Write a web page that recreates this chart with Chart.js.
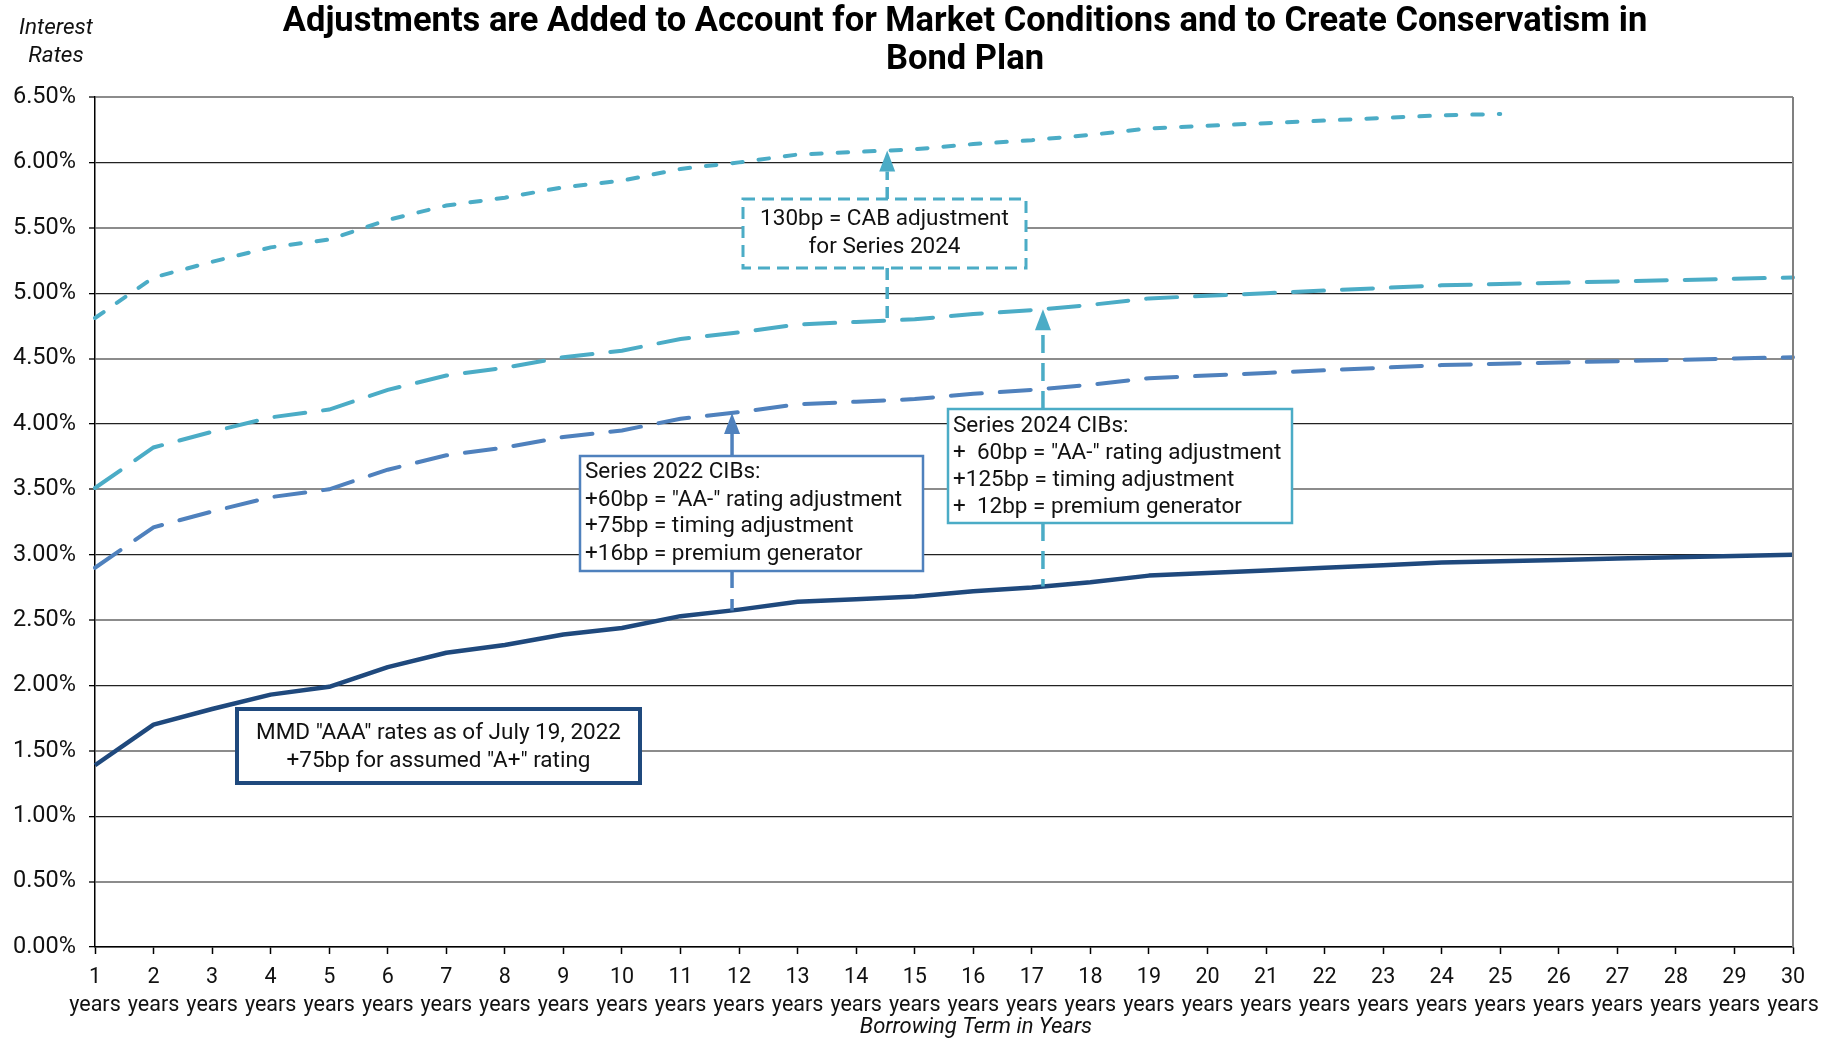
<!DOCTYPE html>
<html>
<head>
<meta charset="utf-8">
<script src="https://cdn.jsdelivr.net/npm/chart.js@4.4.1/dist/chart.umd.min.js"></script>
<style>
  html, body { margin: 0; padding: 0; background: #ffffff; }
  #wrap { width: 1837px; height: 1039px; }
</style>
</head>
<body>
<div id="wrap"><canvas id="c" width="1837" height="1039"></canvas></div>
<script>
// Borrowing terms (years) on the x axis
const terms = [1, 2, 3, 4, 5, 6, 7, 8, 9, 10, 11, 12, 13, 14, 15,
               16, 17, 18, 19, 20, 21, 22, 23, 24, 25, 26, 27, 28, 29, 30];
const termUnit = 'years';

// MMD "AAA" + 75bp ("A+") curve, in percent
const mmdRates = [1.39, 1.70, 1.82, 1.93, 1.99, 2.14, 2.25, 2.31, 2.39, 2.44,
                  2.53, 2.58, 2.64, 2.66, 2.68, 2.72, 2.75, 2.79, 2.84, 2.86,
                  2.88, 2.90, 2.92, 2.94, 2.95, 2.96, 2.97, 2.98, 2.99, 3.00];

// Series 2022 CIBs
const series2022Rates = [2.90, 3.21, 3.33, 3.44, 3.50, 3.65, 3.76, 3.82, 3.90, 3.95,
                         4.04, 4.09, 4.15, 4.17, 4.19, 4.23, 4.26, 4.30, 4.35, 4.37,
                         4.39, 4.41, 4.43, 4.45, 4.46, 4.47, 4.48, 4.49, 4.50, 4.51];

// Series 2024 CIBs
const series2024Rates = [3.51, 3.82, 3.94, 4.05, 4.11, 4.26, 4.37, 4.43, 4.51, 4.56,
                         4.65, 4.70, 4.76, 4.78, 4.80, 4.84, 4.87, 4.91, 4.96, 4.98,
                         5.00, 5.02, 5.04, 5.06, 5.07, 5.08, 5.09, 5.10, 5.11, 5.12];

// Series 2024 with CAB adjustment (runs to 25 years)
const cabRates = [4.81, 5.12, 5.24, 5.35, 5.41, 5.56, 5.67, 5.73, 5.81, 5.86,
                  5.95, 6.00, 6.06, 6.08, 6.10, 6.14, 6.17, 6.21, 6.26, 6.28,
                  6.30, 6.32, 6.34, 6.36, 6.37, null, null, null, null, null];

// Y axis range / tick step (percent)
const yTicks = { min: 0, max: 6.5, step: 0.5 };

const NAVY = '#1F497D';
const BLUE = '#4F81BD';
const TEAL = '#4BACC6';
const FONT = 'Roboto, "DejaVu Sans", sans-serif';

const tickLabels = terms.map(t => [String(t), termUnit]);

// Callout boxes and arrows drawn over the plot
const callouts = [
  { rect: [237, 709, 403, 74], stroke: NAVY, width: 4, dash: [], align: 'center',
    lines: ['MMD "AAA" rates as of July 19, 2022', '+75bp for assumed "A+" rating'],
    lineY: [733, 761] },
  { rect: [580, 456, 343, 115], stroke: BLUE, width: 2.5, dash: [], align: 'left',
    lines: ['Series 2022 CIBs:', '+60bp = "AA-" rating adjustment', '+75bp = timing adjustment', '+16bp = premium generator'],
    lineY: [472, 500, 526, 554] },
  { rect: [948, 409, 344, 114], stroke: TEAL, width: 2.5, dash: [], align: 'left',
    lines: ['Series 2024 CIBs:', '+  60bp = "AA-" rating adjustment', '+125bp = timing adjustment', '+  12bp = premium generator'],
    lineY: [426, 453, 480, 507] },
  { rect: [743, 199, 283, 69], stroke: TEAL, width: 3, dash: [12, 7], align: 'center',
    lines: ['130bp = CAB adjustment', 'for Series 2024'],
    lineY: [219, 247] }
];

// Arrows: position along the x axis (category index), from the base curve up to the target curve
const arrows = [
  { at: 10.88, from: 0, to: 1, box: 1, color: BLUE, upperDash: [], lowerDash: [17, 11] },
  { at: 16.19, from: 0, to: 2, box: 2, color: TEAL, upperDash: [18, 10], lowerDash: [18, 10] },
  { at: 13.53, from: 2, to: 3, box: 3, color: TEAL, upperDash: [12, 7], lowerDash: [12, 7] }
];

function curveY(chart, ds, idx) {
  const pts = chart.getDatasetMeta(ds).data;
  const i = Math.floor(idx), f = idx - i;
  return pts[i].y + (pts[i + 1].y - pts[i].y) * f;
}

const overlay = {
  id: 'overlay',
  afterDatasetsDraw(chart) {
    const ctx = chart.ctx;
    const area = chart.chartArea;
    ctx.save();
    // right plot border
    ctx.strokeStyle = '#808080';
    ctx.lineWidth = 2;
    ctx.beginPath();
    ctx.moveTo(area.right, area.top);
    ctx.lineTo(area.right, area.bottom);
    ctx.stroke();

    // arrows
    arrows.forEach(a => {
      const x = chart.scales.x.getPixelForValue(a.at);
      const yBase = curveY(chart, a.from, a.at);
      const yTip = curveY(chart, a.to, a.at);
      const r = callouts[a.box].rect;
      const boxTop = r[1], boxBottom = r[1] + r[3];
      const headLen = 21, headHalf = 8;
      ctx.strokeStyle = a.color;
      ctx.fillStyle = a.color;
      ctx.lineWidth = 3.5;
      ctx.lineCap = 'butt';
      // lower part: base curve up to the box
      ctx.setLineDash(a.lowerDash);
      ctx.beginPath();
      ctx.moveTo(x, boxBottom);
      ctx.lineTo(x, yBase);
      ctx.stroke();
      // upper part: box up to the arrow head
      ctx.setLineDash(a.upperDash);
      ctx.beginPath();
      ctx.moveTo(x, boxTop);
      ctx.lineTo(x, yTip + headLen);
      ctx.stroke();
      ctx.setLineDash([]);
      ctx.beginPath();
      ctx.moveTo(x, yTip);
      ctx.lineTo(x - headHalf, yTip + headLen);
      ctx.lineTo(x + headHalf, yTip + headLen);
      ctx.closePath();
      ctx.fill();
    });

    // callout boxes
    callouts.forEach(c => {
      const [x, y, w, h] = c.rect;
      ctx.setLineDash([]);
      ctx.fillStyle = '#ffffff';
      ctx.fillRect(x, y, w, h);
      ctx.strokeStyle = c.stroke;
      ctx.lineWidth = c.width;
      ctx.setLineDash(c.dash);
      ctx.strokeRect(x, y, w, h);
      ctx.setLineDash([]);
      ctx.fillStyle = '#111111';
      ctx.font = '22.5px ' + FONT;
      ctx.textBaseline = 'middle';
      ctx.textAlign = c.align;
      const tx = c.align === 'center' ? x + w / 2 : x + 5;
      c.lines.forEach((s, i) => ctx.fillText(s, tx, c.lineY[i]));
    });
    ctx.restore();
  },
  afterDraw(chart) {
    const ctx = chart.ctx;
    ctx.save();
    ctx.fillStyle = '#000000';
    ctx.textAlign = 'center';
    ctx.textBaseline = 'middle';
    ctx.font = 'bold 34.5px ' + FONT;
    ctx.fillText('Adjustments are Added to Account for Market Conditions and to Create Conservatism in', 965, 22);
    ctx.fillText('Bond Plan', 965, 60);
    ctx.fillStyle = '#111111';
    ctx.font = 'italic 22.5px ' + FONT;
    ctx.fillText('Interest', 56, 28);
    ctx.fillText('Rates', 56, 56);
    ctx.font = 'italic 22px ' + FONT;
    ctx.fillText('Borrowing Term in Years', 976, 1027);
    ctx.restore();
  }
};

const dashedLine = (label, data, color, dash) => ({
  label, data, borderColor: color, backgroundColor: color,
  borderWidth: 4, borderDash: dash, borderCapStyle: 'round',
  pointRadius: 0, tension: 0, spanGaps: false
});

new Chart(document.getElementById('c'), {
  type: 'line',
  data: {
    labels: tickLabels,
    datasets: [
      { label: 'MMD "AAA" + 75bp', data: mmdRates, borderColor: NAVY, backgroundColor: NAVY,
        borderWidth: 4.5, pointRadius: 0, tension: 0, borderJoinStyle: 'round' },
      dashedLine('Series 2022 CIBs', series2022Rates, BLUE, [31, 18]),
      dashedLine('Series 2024 CIBs', series2024Rates, TEAL, [31, 18]),
      dashedLine('Series 2024 + CAB', cabRates, TEAL, [10.5, 16])
    ]
  },
  options: {
    responsive: false,
    devicePixelRatio: 1,
    animation: false,
    layout: { padding: { top: 97, right: 44, bottom: 0, left: 0 } },
    plugins: { legend: { display: false }, tooltip: { enabled: false }, title: { display: false } },
    scales: {
      x: {
        type: 'category',
        offset: false,
        afterFit(scale) { scale.height = 92; },
        border: { display: true, color: '#000000', width: 1.5 },
        grid: { drawOnChartArea: false, drawTicks: true, tickLength: 7, tickColor: '#000000', tickWidth: 1.5 },
        ticks: {
          autoSkip: false, maxRotation: 0, padding: 10, color: '#111111',
          font: { family: FONT, size: 21.5, lineHeight: 1.3 }
        }
      },
      y: {
        min: yTicks.min, max: yTicks.max,
        afterFit(scale) { scale.width = 95; },
        border: { display: true, color: '#000000', width: 1.5 },
        grid: {
          color: c => (Math.abs(c.tick.value % 1) < 1e-6 ? '#222222' : '#8c8c8c'),
          lineWidth: c => (Math.abs(c.tick.value % 1) < 1e-6 ? 1.3 : 2),
          drawTicks: true, tickLength: 6, tickColor: '#000000', tickWidth: 1.3
        },
        ticks: {
          stepSize: yTicks.step, padding: 13, color: '#111111',
          font: { family: FONT, size: 23.5 },
          callback: v => v.toFixed(2) + '%'
        }
      }
    }
  },
  plugins: [overlay]
});
</script>
</body>
</html>
